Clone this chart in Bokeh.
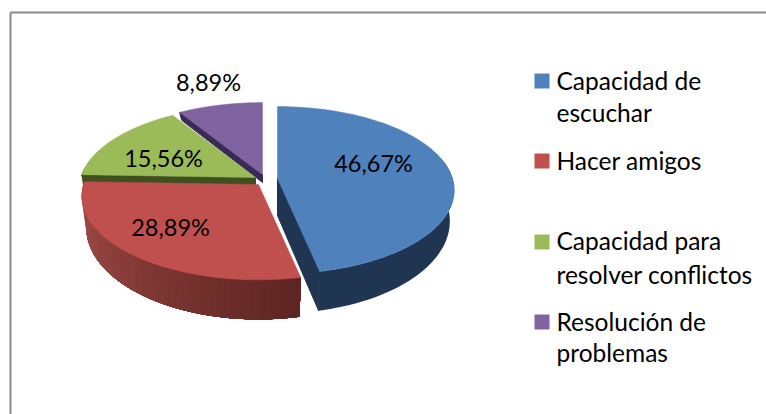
import math
from bokeh.plotting import figure
from bokeh.models import Range1d
from bokeh.core.properties import value
from bokeh.embed import file_html
from bokeh.resources import INLINE

# --- data ---
categories = ["Capacidad de escuchar", "Hacer amigos",
              "Capacidad para resolver conflictos", "Resolución de problemas"]
shares = [46.67, 28.89, 15.56, 8.89]
share_labels = ["46,67%", "28,89%", "15,56%", "8,89%"]
legend_lines = [["Capacidad de", "escuchar"], ["Hacer amigos"],
                ["Capacidad para", "resolver conflictos"], ["Resolución de", "problemas"]]

# --- style / layout (screen pixels) ---
top_colors = ["#4f81bd", "#c0504d", "#9bbb59", "#8064a2"]
face_colors = ["#1f3552", "#5c2522", "#3f4f20", "#3a2b55"]
apex = [(277, 178), (258, 184), (255, 177), (262, 174)]
label_pos = [(373, 162), (170, 226), (163, 157), (208, 81)]
legend_sq_y = [80.5, 160.5, 241.5, 321.5]
legend_text_y = [[80, 112], [160], [240, 274], [321, 352]]
FONT = "Lato"
A, S, K = 175.0, 82.0, 0.14
APEX_DROP = 37.0
RIM_DROP = 30.0
LOW_X = 0.975
LOW_Y = 1.1


def proj(theta):
    z = math.cos(theta)
    x = math.sin(theta)
    d = 1 + K * z
    return A * x / d, -S * z / d


def rim_top(ax, ay, t0, t1, n=60):
    pts = []
    for i in range(n + 1):
        u, v = proj(t0 + (t1 - t0) * i / n)
        pts.append((ax + u, ay + v))
    return pts


def rim_low(ax, ay, t0, t1, n=60):
    pts = []
    for i in range(n + 1):
        u, v = proj(t0 + (t1 - t0) * i / n)
        pts.append((ax + u * LOW_X, ay + v * LOW_Y + RIM_DROP))
    return pts


p = figure(width=766, height=414, output_backend="svg", toolbar_location=None,
           x_range=Range1d(0, 766), y_range=Range1d(414, 0), min_border=0)
p.axis.visible = False
p.grid.visible = False
p.outline_line_color = None
p.background_fill_color = "white"

# chart frame
p.line([10, 766], [12, 12], line_color="#8a8a8a", line_width=2)
p.line([10, 10], [12, 414], line_color="#8a8a8a", line_width=2)

# angular extents
angles = []
acc = 0.0
total = sum(shares)
for s in shares:
    a0 = acc / total * 2 * math.pi
    acc += s
    angles.append((a0, acc / total * 2 * math.pi))

for i in [3, 2, 1, 0]:
    a0, a1 = angles[i]
    ax, ay = apex[i]
    # cut faces
    for ang in (a0, a1):
        if i in (0,) and ang == a1 or i in (2, 3) and ang == a0:
            u, v = proj(ang)
            xs = [ax, ax + u, ax + u * LOW_X, ax]
            if i == 0:
                ys = [ay, ay + v, ay + v * LOW_Y + RIM_DROP, ay + APEX_DROP]
            else:
                ys = [ay, ay + v, ay + v + 8, ay + 8]
            p.patch(xs, ys, fill_color=face_colors[i], line_color=face_colors[i], line_width=1)
    # outer rim, front part only
    t0 = max(a0, math.pi / 2 - 0.25)
    t1 = min(a1, 3 * math.pi / 2 + 0.12)
    if t1 > t0:
        n = 36 if i == 1 else 1
        for j in range(n):
            # each band reaches the far end, so the next one overpaints it without a seam
            if i == 1:
                b0 = t1 - (t1 - t0) * j / n
                f = (b0 - t0) / (t1 - t0)      # 0 at the right end, 1 at the left
                c = (int(92 + 78 * f), int(36 + 44 * f), int(33 + 43 * f))
                col = "#%02x%02x%02x" % c
            else:
                b0 = t1
                col = face_colors[i]
            top = rim_top(ax, ay, t0, b0)
            bot = rim_low(ax, ay, t0, b0)
            xs = [q[0] for q in top] + [q[0] for q in reversed(bot)]
            ys = [q[1] for q in top] + [q[1] for q in reversed(bot)]
            p.patch(xs, ys, fill_color=col, line_color=None)
    # top
    pts = [(ax, ay)] + rim_top(ax, ay, a0, a1, 80)
    p.patch([q[0] for q in pts], [q[1] for q in pts], fill_color=top_colors[i],
            line_color=top_colors[i], line_width=0.5)

# data labels
for lab, (x, y) in zip(share_labels, label_pos):
    p.text([x], [y], text=[lab], text_font=value(FONT), text_font_size="23.5px",
           text_color="#000000", text_align="center", text_baseline="alphabetic")

# legend
for i, lines in enumerate(legend_lines):
    p.scatter([541.5], [legend_sq_y[i]], marker="square", size=15, fill_color=top_colors[i],
              line_color=None)
    for line, y in zip(lines, legend_text_y[i]):
        p.text([556], [y], text=[line], text_font=value(FONT), text_font_size="24.5px",
               text_color="#000000", text_align="left", text_baseline="alphabetic")

open("out.html", "w").write(file_html(p, INLINE))
